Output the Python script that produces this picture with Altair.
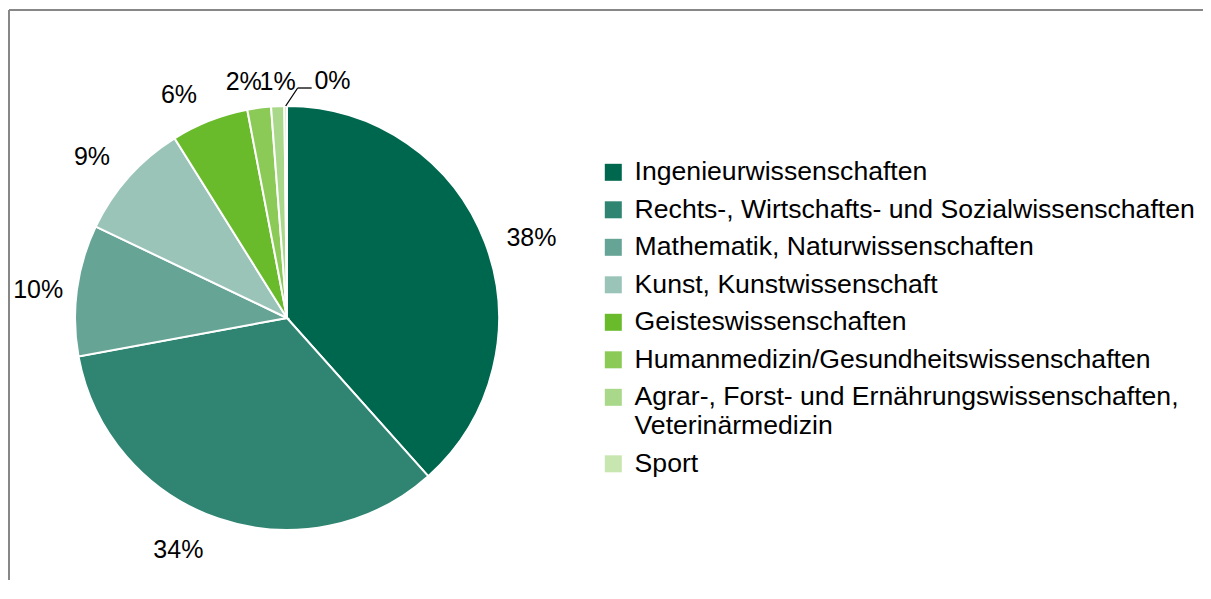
import math
import altair as alt
import pandas as pd

# ---- data ----
categories = [
    "Ingenieurwissenschaften",
    "Rechts-, Wirtschafts- und Sozialwissenschaften",
    "Mathematik, Naturwissenschaften",
    "Kunst, Kunstwissenschaft",
    "Geisteswissenschaften",
    "Humanmedizin/Gesundheitswissenschaften",
    "Agrar-, Forst- und Ernährungswissenschaften,\nVeterinärmedizin",
    "Sport",
]
shares = [38.4, 33.7, 10.0, 9.0, 5.9, 1.8, 1.0, 0.2]
labels = ["38%", "34%", "10%", "9%", "6%", "2%", "1%", "0%"]
colors = ["#00674f", "#2f8572", "#66a496", "#9bc4b9",
          "#6abb2b", "#8bca57", "#a9d88a", "#c8e6b0"]

# ---- derived table ----
total = sum(shares)
start, acc = [], 0.0
for s in shares:
    start.append(acc)
    acc += s
df = pd.DataFrame({
    "cat": categories,
    "share": shares,
    "label": labels,
    "idx": list(range(len(categories))),
    "start": start,
    "end": [a + s for a, s in zip(start, shares)],
})
df["mid"] = (df["start"] + df["end"]) / 2

FONT = "Liberation Sans"
W, H = 1194, 570
CX, CY = 278, 308          # pie centre inside the view
R = 212
BORDER = "#878787"

theta_scale = alt.Scale(domain=[0, total])

pie = alt.Chart(df).mark_arc(radius=R, stroke="white", strokeWidth=2).encode(
    theta=alt.Theta("start:Q", scale=theta_scale),
    theta2="end:Q",
    color=alt.Color(
        "cat:N",
        scale=alt.Scale(domain=categories, range=colors),
        sort=categories,
        legend=alt.Legend(
            title=None,
            orient="none",
            legendX=591,
            legendY=149,
            symbolType="square",
            symbolSize=289,
            symbolStrokeWidth=0,
            symbolOpacity=1,
            labelFont=FONT,
            labelFontSize=26.6,
            labelColor="#000000",
            labelOffset=8,
            labelLimit=0,
            rowPadding=10.5,
            padding=0,
            labelExpr="split(datum.label, '\\n')",
        ),
    ),
    x=alt.value(CX),
    y=alt.value(CY),
)


def label_layer(i, radius, dx=0, dy=0, align="center"):
    return alt.Chart(df).transform_filter(alt.datum.idx == i).mark_text(
        radius=radius, dx=dx, dy=dy, align=align, baseline="middle",
        font=FONT, fontSize=25, color="#000000",
    ).encode(
        theta=alt.Theta("mid:Q", scale=theta_scale),
        text="label:N",
        x=alt.value(CX),
        y=alt.value(CY),
    )


texts = [
    label_layer(0, 252, 9, 10),
    label_layer(1, 252, -27, -6),
    label_layer(2, 252, 1, 5),
    label_layer(3, 252, -7, 7),
    label_layer(4, 252, -16, 12),
    label_layer(5, 238, -12, 0),
    label_layer(6, 238, 1, 2),
    label_layer(7, 238, 47, 1),
]

# leader line for the smallest slice, derived from its mid angle
ang = 2 * math.pi * df["mid"].iloc[-1] / total
p0x, p0y = CX + R * math.sin(ang), CY - R * math.cos(ang)
p1x, p1y = p0x + 12, p0y - 18
p2x = p1x + 14
lead1 = alt.Chart(df.head(1)).mark_rule(color="#000000", strokeWidth=1.3).encode(
    x=alt.value(p0x), y=alt.value(p0y), x2=alt.value(p1x), y2=alt.value(p1y))
lead2 = alt.Chart(df.head(1)).mark_rule(color="#000000", strokeWidth=1.3).encode(
    x=alt.value(p1x), y=alt.value(p1y), x2=alt.value(p2x), y2=alt.value(p1y))

# chart frame (top and left edges; right/bottom lie outside the picture)
frame_top = alt.Chart(df.head(1)).mark_rule(color=BORDER, strokeWidth=2).encode(
    x=alt.value(0), x2=alt.value(W), y=alt.value(0))
frame_left = alt.Chart(df.head(1)).mark_rule(color=BORDER, strokeWidth=2).encode(
    x=alt.value(0), y=alt.value(0), y2=alt.value(H))

chart = alt.layer(frame_top, frame_left, pie, *texts, lead1, lead2).properties(
    width=W, height=H,
    autosize=alt.AutoSizeParams(type="none"),
    padding={"left": 1, "top": 2, "right": 0, "bottom": 0},
    background="white",
).configure_view(stroke="transparent", strokeWidth=0)

chart.save("out.html", embed_options={"renderer": "svg", "actions": False})
